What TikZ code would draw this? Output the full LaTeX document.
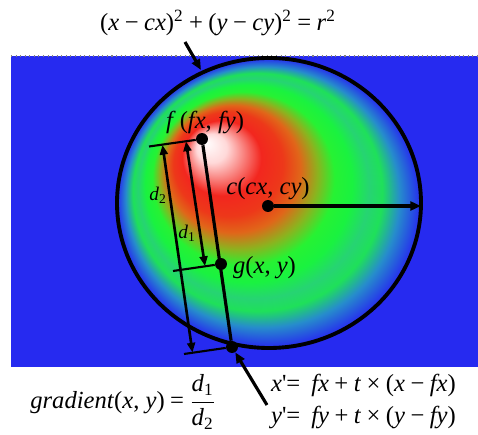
\documentclass[tikz,border=0pt]{standalone}
\usepackage{fontspec}
\setmainfont{Liberation Serif}
\usepackage{tikz}
\usetikzlibrary{arrows.meta, positioning}
\definecolor{bluebg}{RGB}{38,42,240}
\pgfdeclareradialshading{glow}{\pgfpoint{-21bp}{21bp}}{%
  rgb(0bp)=(1,1,1); rgb(5bp)=(1,0.85,0.85); rgb(13bp)=(0.95,0.15,0.12);
  rgb(18bp)=(0.93,0.22,0.1); rgb(22bp)=(0.88,0.4,0.1); rgb(26bp)=(0.55,0.7,0.12);
  rgb(30bp)=(0.15,0.95,0.2); rgb(34bp)=(0.1,0.95,0.25); rgb(38bp)=(0.15,0.83,0.45);
  rgb(41bp)=(0.12,0.88,0.35); rgb(45bp)=(0.15,0.55,0.8); rgb(50bp)=(0.15,0.16,0.94)}
\newcommand{\mi}[1]{\textit{#1}}
\newcommand{\mm}{\:−\:}
\newcommand{\op}[1]{\:#1\:}

\begin{document}
\begin{tikzpicture}[x=0.02cm, y=-0.02cm,
    every node/.style={font=\fontsize{14}{16}\selectfont},
    pt/.style={circle, fill=black, inner sep=0pt, minimum size=12*0.567pt},
    lbl/.style={inner sep=1pt},
    small/.style={font=\fontsize{11}{12}\selectfont, inner sep=0pt},
    arr/.style={line width=1.8pt, -{Triangle[length=6pt,width=5pt]}},
    dim/.style={line width=1.5pt, {Triangle[length=5.5pt,width=4.5pt]}-{Triangle[length=5.5pt,width=4.5pt]}},
    tick/.style={line width=1.2pt},
]
\useasboundingbox (0,0) rectangle (478,435);
% background and shaded circle
\fill[bluebg] (11,56) rectangle (478,367);
\draw[gray, dotted, line width=0.6pt] (11,56) -- (478,56);
\begin{scope}
  \clip (269,203) ellipse [x radius=152, y radius=145];
  \pgftransformshift{\pgfpointxy{269}{203}}
  \pgftransformxscale{1.724}\pgftransformyscale{1.644}
  \pgflowlevelsynccm
  \pgfuseshading{glow}
\end{scope}
\draw[line width=2.2pt] (269,203) ellipse [x radius=152, y radius=145];

\node[pt] (f) at (202,139) {};
\node[pt] (g) at (221,264) {};
\node[pt] (c) at (268,206) {};
\node[pt] (e) at (232,347) {};
\coordinate (r) at (421,206);
\coordinate (tf) at (149,146.5);
\coordinate (tg) at (173,271);
\coordinate (te) at (184,354);
\coordinate (a1) at (186,141.5);
\coordinate (b1) at (205,266);
\coordinate (a2) at (162.5,145);
\coordinate (b2) at (192.5,352.5);
\coordinate (top) at (185,42);
\coordinate (hit) at (201,70);
\coordinate (low) at (267,405);

\draw[line width=1.8pt] (f) -- (e);
\draw[tick] (tf) -- (f);
\draw[tick] (tg) -- (g);
\draw[tick] (te) -- (e);
\draw[dim] (a1) -- (b1);
\draw[dim] (a2) -- (b2);
\draw[arr] (c) -- (r);
\draw[arr] (top) -- (hit);
\draw[arr] (low) -- (e);

\node[lbl] at (205,123) {\mi{f}\,(\mi{fx}, \mi{fy})};
\node[lbl] at (268,189) {\mi{c}(\mi{cx}, \mi{cy})};
\node[lbl, anchor=west] at (231,268) {\mi{g}(\mi{x}, \mi{y})};
\node[small] at (158,195) {\mi{d}\textsubscript{2}};
\node[small] at (187,233) {\mi{d}\textsubscript{1}};

\node[lbl] (circ) at (218,23) {(\mi{x}\mm\mi{cx})\textsuperscript{2}\op{+}(\mi{y}\mm\mi{cy})\textsuperscript{2}\op{=}\mi{r}\textsuperscript{2}};
\node[lbl] (grad) at (123,402) {\mi{gradient}(\mi{x}, \mi{y})\op{=}$\displaystyle\frac{\mbox{\mi{d}\textsubscript{1}}}{\mbox{\mi{d}\textsubscript{2}}}$};
\node[lbl, anchor=west] (xp) at (269,385) {\mi{x}\textquotesingle{}=\op{}\mi{fx}\op{+}\mi{t}\op{×}(\mi{x}\mm\mi{fx})};
\node[lbl, anchor=west] (yp) at (269,418) {\mi{y}\textquotesingle{}=\op{}\mi{fy}\op{+}\mi{t}\op{×}(\mi{y}\mm\mi{fy})};
\end{tikzpicture}
\end{document}
